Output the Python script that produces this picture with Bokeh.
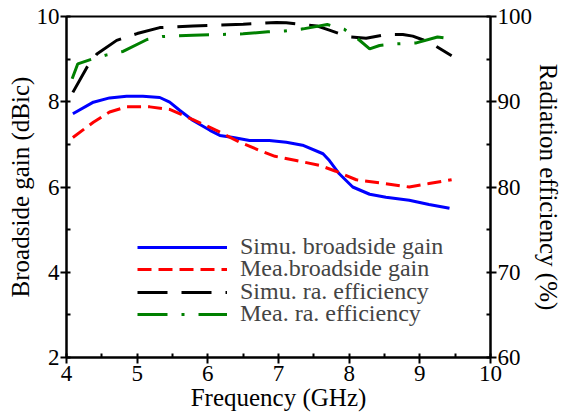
from bokeh.plotting import figure
from bokeh.models import (Range1d, LinearAxis, SingleIntervalTicker, Legend, LegendItem)
from bokeh.embed import file_html
from bokeh.resources import INLINE

# ---- data ----
freq_simu_gain = [4.09, 4.38, 4.61, 4.85, 5.08, 5.32, 5.46, 5.60, 5.79, 6.03, 6.17, 6.36, 6.59,
                  6.87, 7.11, 7.34, 7.63, 7.72, 7.86, 8.05, 8.29, 8.52, 8.85, 9.13, 9.42]
simu_gain = [7.72, 7.99, 8.09, 8.13, 8.13, 8.10, 7.99, 7.80, 7.56, 7.33, 7.21, 7.16, 7.09,
             7.09, 7.05, 6.98, 6.78, 6.62, 6.31, 6.00, 5.83, 5.76, 5.69, 5.59, 5.50]

freq_mea_gain = [4.09, 4.38, 4.61, 4.85, 5.18, 5.46, 5.79, 6.12, 6.45, 6.73, 6.95,
                 7.25, 7.58, 7.81, 8.10, 8.43, 8.85, 9.13, 9.45]
mea_gain = [7.16, 7.52, 7.76, 7.88, 7.88, 7.82, 7.58, 7.33, 7.05, 6.86, 6.72,
            6.62, 6.51, 6.37, 6.17, 6.10, 6.00, 6.08, 6.17]

freq_simu_eff = [4.09, 4.29, 4.43, 4.71, 5.00, 5.32, 5.79, 6.50, 6.97, 7.11, 7.54, 7.72,
                 8.00, 8.24, 8.53, 8.76, 8.90, 9.13, 9.45]
simu_eff = [91.1, 94.05, 95.6, 97.2, 98.0, 98.7, 98.9, 99.1, 99.3, 99.26, 98.9, 98.4,
            97.6, 97.45, 97.9, 97.9, 97.7, 97.0, 95.4]

freq_mea_eff = [4.08, 4.16, 4.36, 4.57, 4.80, 5.14, 5.36, 5.79, 6.50, 6.85, 7.09, 7.35,
                7.69, 7.93, 8.12, 8.29, 8.43, 8.68, 8.95, 9.25, 9.53]
mea_eff = [92.7, 94.45, 95.0, 95.5, 95.9, 97.3, 97.65, 97.8, 97.97, 98.2, 98.3, 98.55,
           99.06, 98.5, 97.4, 96.2, 96.6, 96.8, 96.9, 97.6, 97.3]

labels = ["Simu. broadside gain", "Mea.broadside gain", "Simu. ra. efficiency", "Mea. ra. efficiency"]

FONT = "Liberation Serif"

p = figure(width=565, height=417, output_backend="svg", toolbar_location=None,
           x_range=Range1d(4, 10), y_range=Range1d(2, 10),
           min_border_left=66, min_border_right=74, min_border_top=16, min_border_bottom=60)
p.extra_y_ranges = {"eff": Range1d(60, 100)}
p.xgrid.visible = False
p.ygrid.visible = False
p.outline_line_color = "black"
p.outline_line_width = 2
p.background_fill_color = "white"
p.border_fill_color = "white"

r1 = p.line(freq_simu_gain, simu_gain, line_color="#0000ff", line_width=3)
r2 = p.line(freq_mea_gain, mea_gain, line_color="#ff0000", line_width=3, line_dash="14 7")
r3 = p.line(freq_simu_eff, simu_eff, line_color="black", line_width=3, line_dash="30 14",
            y_range_name="eff")
r4 = p.line(freq_mea_eff, mea_eff, line_color="#008000", line_width=3, line_dash="30 14 3 14",
            y_range_name="eff")

right = LinearAxis(y_range_name="eff")
p.add_layout(right, "right")

p.xaxis.ticker = SingleIntervalTicker(interval=1, num_minor_ticks=2)
p.yaxis[0].ticker = SingleIntervalTicker(interval=2, num_minor_ticks=2)
right.ticker = SingleIntervalTicker(interval=10, num_minor_ticks=2)

p.xaxis.axis_label = "Frequency (GHz)"
p.yaxis[0].axis_label = "Broadside gain (dBic)"
right.axis_label = "Radiation efficiency (%)"

for ax in [p.xaxis[0], p.yaxis[0], right]:
    ax.axis_line_width = 2
    ax.axis_line_color = "black"
    ax.major_tick_line_width = 2
    ax.minor_tick_line_width = 2
    ax.major_tick_out = 6
    ax.major_tick_in = 0
    ax.minor_tick_in = 4
    ax.minor_tick_out = 0
    ax.major_label_text_font = FONT
    ax.major_label_text_font_size = "23px"
    ax.major_label_text_color = "black"
    ax.axis_label_text_font = FONT
    ax.axis_label_text_font_size = "25px"
    ax.axis_label_text_font_style = "normal"
    ax.axis_label_text_color = "black"

p.xaxis.major_label_standoff = 2
p.xaxis.axis_label_standoff = 0
p.yaxis[0].major_label_standoff = 1
p.yaxis[0].axis_label_standoff = 0
right.major_label_standoff = 1
right.axis_label_standoff = 0

# one single-item legend per row, so the row pitch matches the reference
renderers = [r1, r2, r3, r4]
row_offsets = [97, 75, 52, 30]
for lab, rend, yoff in zip(labels, renderers, row_offsets):
    lg = Legend(items=[LegendItem(label=lab, renderers=[rend])],
                location=(71, yoff), orientation="vertical",
                glyph_width=90, glyph_height=20, label_height=20,
                label_standoff=13, spacing=0, padding=0, margin=0,
                label_text_font=FONT, label_text_font_size="24px",
                border_line_color=None, background_fill_alpha=0)
    p.add_layout(lg, "center")

open("out.html", "w").write(file_html(p, INLINE))
